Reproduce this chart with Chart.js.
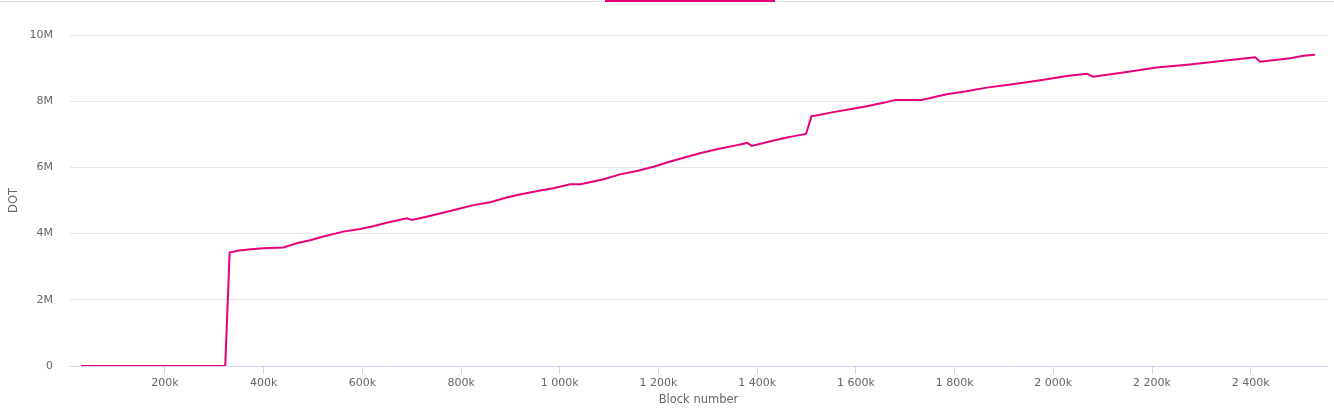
<!DOCTYPE html>
<html>
<head>
<meta charset="utf-8">
<script src="https://cdn.jsdelivr.net/npm/chart.js@4"></script>
<style>
  html, body { margin: 0; padding: 0; background: #fff; }
  #wrap { width: 1334px; height: 408px; position: relative; }
</style>
</head>
<body>
<div id="wrap"><canvas id="chart"></canvas></div>
<script>
// block numbers and DOT amounts
var blocks = [30000, 322000, 331000, 350000, 375000, 400000, 440000, 467000, 494000, 521000,
  561000, 595000, 622000, 649000, 690000, 700000, 730000, 757000, 798000, 825000,
  859000, 892000, 919000, 960000, 987000, 1021000, 1041000, 1061000, 1089000, 1122000,
  1156000, 1190000, 1217000, 1251000, 1284000, 1318000, 1352000, 1380000, 1389000, 1419000,
  1453000, 1480000, 1499000, 1510000, 1520000, 1554000, 1588000, 1622000, 1656000, 1680000,
  1733000, 1784000, 1824000, 1865000, 1906000, 1946000, 1987000, 2027000, 2068000, 2080000,
  2142000, 2209000, 2277000, 2345000, 2409000, 2419000, 2480000, 2507000, 2530000];
var dot = [0, 0, 3430000, 3490000, 3530000, 3560000, 3580000, 3710000, 3800000, 3910000,
  4060000, 4140000, 4220000, 4330000, 4460000, 4410000, 4510000, 4610000, 4760000, 4860000,
  4950000, 5090000, 5180000, 5300000, 5370000, 5490000, 5490000, 5550000, 5640000, 5790000,
  5890000, 6020000, 6150000, 6290000, 6430000, 6550000, 6650000, 6740000, 6650000, 6760000,
  6880000, 6960000, 7010000, 7550000, 7570000, 7670000, 7760000, 7850000, 7950000, 8040000,
  8040000, 8210000, 8300000, 8410000, 8490000, 8570000, 8660000, 8760000, 8830000, 8740000,
  8870000, 9020000, 9110000, 9220000, 9330000, 9190000, 9300000, 9370000, 9400000];

var xTickValues = [200000, 400000, 600000, 800000, 1000000, 1200000, 1400000, 1600000, 1800000, 2000000, 2200000, 2400000];
var xTickLabels = ["200k", "400k", "600k", "800k", "1 000k", "1 200k", "1 400k", "1 600k", "1 800k", "2 000k", "2 200k", "2 400k"];
var yTickValues = [0, 2000000, 4000000, 6000000, 8000000, 10000000];
var yTickLabels = ["0", "2M", "4M", "6M", "8M", "10M"];

var pink = "#e6007a";
var textColor = "#666666";
var font = { family: "DejaVu Sans", size: 11 };

// thin bar across the top with the highlighted part
var topBar = {
  id: "topBar",
  beforeDraw: function (chart) {
    var c = chart.ctx;
    c.save();
    c.fillStyle = "#dcdcdc";
    c.fillRect(0, 1, chart.width, 1);
    c.fillStyle = pink;
    c.fillRect(605, 0, 170, 2);
    c.restore();
  }
};

var pts = blocks.map(function (b, i) { return { x: b, y: dot[i] }; });

new Chart(document.getElementById("chart"), {
  type: "line",
  data: {
    datasets: [{
      label: "DOT",
      data: pts,
      borderColor: pink,
      borderWidth: 2,
      pointRadius: 0,
      tension: 0,
      fill: false
    }]
  },
  options: {
    responsive: true,
    maintainAspectRatio: false,
    animation: false,
    layout: { padding: { top: 35, right: 7, left: 0, bottom: 0 } },
    plugins: {
      legend: { display: false },
      tooltip: { enabled: false }
    },
    scales: {
      x: {
        type: "linear",
        min: 7500,
        max: 2554600,
        afterBuildTicks: function (s) {
          s.ticks = xTickValues.map(function (v) { return { value: v }; });
        },
        afterFit: function (s) { s.height = 42; },
        ticks: {
          color: textColor,
          font: font,
          padding: 3,
          maxRotation: 0,
          autoSkip: false,
          callback: function (v) {
            var i = xTickValues.indexOf(v);
            return i >= 0 ? xTickLabels[i] : "";
          }
        },
        grid: {
          drawOnChartArea: false,
          drawTicks: true,
          tickLength: 8,
          color: "#ccd6eb"
        },
        border: { color: "#ccd6eb", width: 1 },
        title: {
          display: true,
          text: "Block number",
          color: textColor,
          font: { family: "DejaVu Sans", size: 11.5 },
          padding: { top: 0, bottom: 1 }
        }
      },
      y: {
        min: 0,
        max: 10000000,
        afterBuildTicks: function (s) {
          s.ticks = yTickValues.map(function (v) { return { value: v }; });
        },
        afterFit: function (s) { s.width = 70; },
        ticks: {
          color: textColor,
          font: font,
          padding: 17,
          callback: function (v) {
            var i = yTickValues.indexOf(v);
            return i >= 0 ? yTickLabels[i] : "";
          }
        },
        grid: {
          color: "#e6e6e6",
          drawTicks: false
        },
        border: { display: false },
        title: {
          display: true,
          text: "DOT",
          color: textColor,
          font: { family: "DejaVu Sans", size: 11.5 },
          padding: { top: 7, bottom: 0 }
        }
      }
    }
  },
  plugins: [topBar]
});
</script>
</body>
</html>
